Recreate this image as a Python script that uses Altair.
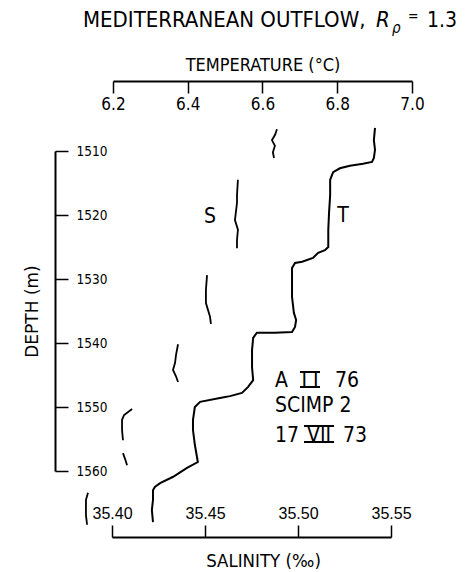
import altair as alt
import pandas as pd

# ---- data ----
t_temp = [6.901, 6.898, 6.901, 6.898, 6.893, 6.869, 6.834, 6.807, 6.789, 6.781, 6.781, 6.778,
          6.776, 6.776, 6.776, 6.767, 6.749, 6.735, 6.706, 6.687, 6.679, 6.679, 6.679, 6.684,
          6.690, 6.687, 6.679, 6.633, 6.585, 6.575, 6.572, 6.572, 6.575, 6.561, 6.545, 6.513,
          6.486, 6.433, 6.419, 6.414, 6.414, 6.419, 6.427, 6.398, 6.361, 6.326, 6.312, 6.307,
          6.307, 6.304, 6.307]
t_depth = [1506.4, 1508.3, 1509.8, 1511.1, 1511.7, 1512.0, 1512.3, 1512.7, 1513.3, 1514.5, 1516.9, 1519.7,
           1522.3, 1524.4, 1525.0, 1525.5, 1525.9, 1526.7, 1527.3, 1527.5, 1528.3, 1530.9, 1532.8, 1535.3,
           1536.4, 1537.5, 1538.3, 1538.4, 1538.4, 1539.2, 1541.1, 1543.8, 1545.8, 1546.9, 1547.8, 1548.3,
           1548.6, 1549.2, 1550.0, 1552.0, 1553.6, 1555.9, 1558.6, 1559.5, 1560.9, 1561.9, 1562.5, 1563.0,
           1564.5, 1566.1, 1568.0]

s_seg = [1, 1, 1, 1, 1, 1,
         2, 2, 2, 2, 2, 2, 2,
         3, 3, 3, 3, 3,
         4, 4, 4, 4, 4, 4,
         5, 5, 5, 5, 5,
         6, 6, 6,
         7, 7, 7, 7, 7]
s_sal = [35.4887, 35.4876, 35.4860, 35.4876, 35.4865, 35.4871,
         35.4677, 35.4672, 35.4672, 35.4661, 35.4677, 35.4672, 35.4672,
         35.4511, 35.4505, 35.4505, 35.4527, 35.4532,
         35.4355, 35.4344, 35.4339, 35.4328, 35.4344, 35.4355,
         35.4108, 35.4065, 35.4054, 35.4054, 35.4059,
         35.4059, 35.4070, 35.4081,
         35.3871, 35.3860, 35.3860, 35.3860, 35.3866]
s_depth = [1506.6, 1507.5, 1508.3, 1509.2, 1510.2, 1511.1,
           1514.5, 1516.9, 1518.1, 1520.8, 1522.3, 1523.9, 1525.2,
           1529.4, 1531.7, 1533.75, 1535.9, 1537.0,
           1540.2, 1541.9, 1543.1, 1544.2, 1545.2, 1546.1,
           1550.3, 1551.25, 1552.0, 1553.6, 1555.2,
           1557.2, 1558.1, 1559.1,
           1563.4, 1564.5, 1565.6, 1566.9, 1568.4]

temp_ticks = [6.2, 6.4, 6.6, 6.8, 7.0]
sal_ticks = [35.40, 35.45, 35.50, 35.55]
depth_ticks = [1510, 1520, 1530, 1540, 1550, 1560]

NARROW = "DejaVu Sans Condensed, Liberation Sans Narrow, sans-serif"
PLAIN = "Liberation Sans, Arial, sans-serif"
WIDE = "DejaVu Sans, sans-serif"

t_df = pd.DataFrame({"order": list(range(len(t_temp))), "temp": t_temp, "depth": t_depth})
s_df = pd.DataFrame({"order": list(range(len(s_sal))), "seg": s_seg, "sal": s_sal, "depth": s_depth})

y_enc = alt.Y("depth:Q",
              scale=alt.Scale(domain=[1510, 1560], reverse=True, nice=False, zero=False),
              axis=alt.Axis(orient="right", offset=-357, values=depth_ticks, format="d",
                            tickSize=13, tickWidth=1.5, domainWidth=2, labelPadding=8,
                            labelAlign="left", labelFont=NARROW, labelFontSize=13.5, grid=False,
                            title="DEPTH (m)", titleFont=WIDE, titleAngle=270, titleX=-18, titleY=160,
                            titleBaseline="alphabetic", titleAlign="center",
                            titleFontSize=17, titleFontWeight="normal"))

t_line = alt.Chart(t_df).mark_line(color="black", strokeWidth=2).encode(
    x=alt.X("temp:Q",
            scale=alt.Scale(domain=[6.2, 7.0], nice=False, zero=False),
            axis=alt.Axis(orient="bottom", offset=-390, values=temp_ticks, format=".1f",
                          tickSize=12, tickWidth=1.5, domainWidth=2, labelPadding=3,
                          labelFont=NARROW, labelFontSize=17, labelFlush=False, grid=False,
                          title="TEMPERATURE (°C)", titleFont=NARROW, titleY=-11,
                          titleBaseline="alphabetic", titleFontSize=18, titleFontWeight="normal")),
    y=y_enc,
    order="order:Q",
)

s_line = alt.Chart(s_df).mark_line(color="black", strokeWidth=1.8).encode(
    x=alt.X("sal:Q",
            scale=alt.Scale(domain=[35.40, 35.55], range=[-1, 278], nice=False, zero=False),
            axis=alt.Axis(orient="top", offset=-386, values=sal_ticks, format=".2f",
                          tickSize=12, tickWidth=1.5, domainWidth=2, labelPadding=4,
                          labelFont=PLAIN, labelFontSize=16, labelFlush=False, grid=False,
                          title="SALINITY (‰)", titleFont=NARROW, titleY=29, titleX=150,
                          titleAlign="center", titleBaseline="alphabetic", titleFontSize=18.5,
                          titleFontWeight="normal")),
    y=y_enc,
    detail="seg:N",
    order="order:Q",
)

ox, oy = 113, 151


def label(txt, x, y, size, align="left", style="normal", font=NARROW):
    return alt.Chart(pd.DataFrame({"t": [txt]})).mark_text(
        align=align, baseline="alphabetic", fontSize=size, fontStyle=style, font=font, color="black"
    ).encode(text="t:N", x=alt.value(x - ox), y=alt.value(y - oy))


def bar(x1, x2, y):
    return alt.Chart(pd.DataFrame({"t": [0]})).mark_rule(color="black", strokeWidth=2).encode(
        x=alt.value(x1 - ox), x2=alt.value(x2 - ox), y=alt.value(y - oy))


texts = [
    label("MEDITERRANEAN OUTFLOW,", 83, 27, 22),
    label("R", 376, 27, 22, style="italic"),
    label("ρ", 392, 33, 15, style="italic"),
    label("=", 408, 21, 14),
    label("1.3", 427, 27, 21),
    label("S", 210, 223, 21, align="center"),
    label("T", 343, 222, 21, align="center"),
    label("A", 275, 387, 21),
    label("I I", 310, 387, 21, align="center"),
    label("76", 335, 387, 21),
    bar(300, 320, 372), bar(300, 320, 387),
    label("SCIMP 2", 275, 412, 21),
    label("17", 275, 442, 21),
    label("VII", 319, 442, 21, align="center"),
    label("73", 343, 442, 21),
    bar(304, 334, 426), bar(304, 334, 442),
]

chart = alt.layer(t_line, s_line, *texts).resolve_scale(x="independent").properties(
    width=299, height=320,
    padding={"left": ox, "top": oy, "right": 475 - ox - 299, "bottom": 572 - oy - 320},
    autosize=alt.AutoSizeParams(type="none"),
    background="white",
).configure_view(stroke=None).configure_axis(
    domainColor="black", tickColor="black", labelColor="black", titleColor="black",
)

chart.save("out.html", embed_options={"renderer": "svg", "actions": False})
